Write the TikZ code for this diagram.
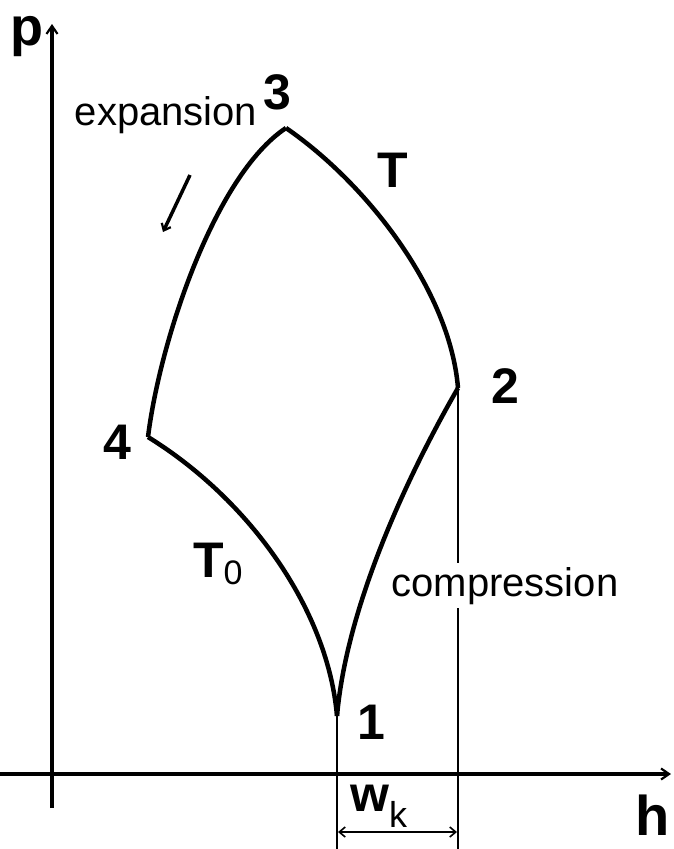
\documentclass[tikz,border=0pt]{standalone}
\usepackage{fontspec}
\setmainfont{Liberation Sans}
\usetikzlibrary{arrows.meta}
\begin{document}
\begin{tikzpicture}[x=1pt,y=-1pt,
  axis/.style={line width=4pt,-{Straight Barb[length=8pt,width=11pt,line width=2.2pt]}},
  curve/.style={line width=4.5pt,line join=miter},
  thin/.style={line width=2.6pt},
  big/.style={font=\fontsize{50}{52}\selectfont\bfseries,inner sep=0pt},
  word/.style={font=\fontsize{40}{44}\selectfont,inner sep=0pt}]
\useasboundingbox (0,0) rectangle (673,849);
% points
\coordinate (P1) at (337,716);
\coordinate (P2) at (458,388);
\coordinate (P3) at (286,128);
\coordinate (P4) at (148,437);
% axes
\coordinate (pb) at (52,808);
\coordinate (pt) at (52,24);
\coordinate (hl) at (0,774);
\coordinate (hr) at (671,774);
\draw[axis] (pb) -- (pt);
\draw[axis] (hl) -- (hr);
% verticals
\coordinate (B1) at (337,849);
\coordinate (B2) at (458,849);
\draw[thin] (P1) -- (B1);
\draw[thin] (P2) -- (B2);
\coordinate (W1) at (338,832);
\coordinate (W2) at (457,832);
\draw[line width=1.6pt,{Straight Barb[length=6pt,width=10pt]}-{Straight Barb[length=6pt,width=10pt]}] (W1) -- (W2);
% cycle
\draw[curve] (P4) .. controls (160,340) and (215,175) .. (P3);
\draw[curve] (P3) .. controls (366,183) and (450,290) .. (P2);
\draw[curve] (P4) .. controls (250,500) and (328,610) .. (P1);
\draw[curve] (P1) .. controls (348,590) and (425,445) .. (P2);
% expansion arrow
\coordinate (E1) at (190,175);
\coordinate (E2) at (163,232);
\draw[line width=3.5pt,-{Straight Barb[length=6pt,width=10pt,line width=2.2pt]}] (E1) -- (E2);
% labels
\node[big,font=\fontsize{54}{56}\selectfont\bfseries,anchor=base west] (lp) at (10,45) {p};
\node[big,font=\fontsize{56}{58}\selectfont\bfseries,anchor=base] (lh) at (653,835) {h};
\node[big] (l3) at (277,92) {3};
\node[big] (l2) at (505,386) {2};
\node[big] (l4) at (117,442) {4};
\node[big] (l1) at (371,722) {1};
\node[big] (lT) at (393,170) {T};
\node[big,anchor=base west] (lT0) at (193,577) {T\fontsize{34}{34}\selectfont\mdseries\raisebox{-7pt}{0}};
\node[word,anchor=base] (lexp) at (166,125) {expansion};
\node[word,anchor=base,fill=white,inner ysep=4pt,inner xsep=0pt] (lcomp) at (505,596) {compression};
\node[big,anchor=base west] (lw) at (350,811) {w\fontsize{36}{36}\selectfont\mdseries\raisebox{-16pt}{k}};
\end{tikzpicture}
\end{document}
